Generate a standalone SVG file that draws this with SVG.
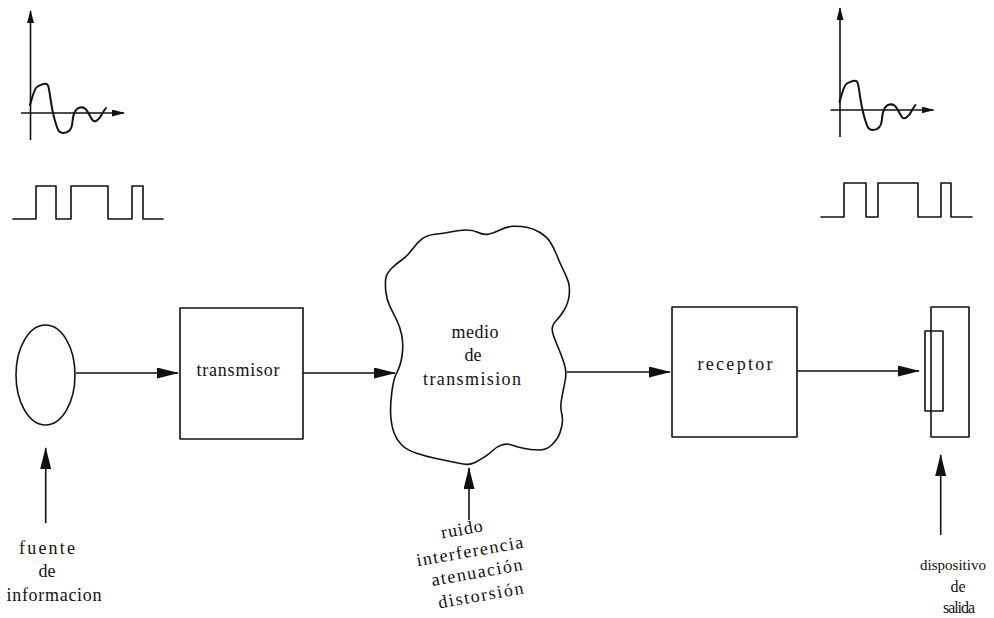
<svg xmlns="http://www.w3.org/2000/svg" xmlns:xlink="http://www.w3.org/1999/xlink" width="994" height="618" viewBox="0 0 994 618">
<style>
.ln{fill:none;stroke:#111;stroke-width:1.6;stroke-linejoin:round;stroke-linecap:round}
.wv{fill:none;stroke:#111;stroke-width:2;stroke-linejoin:round;stroke-linecap:round}
.cn{fill:none;stroke:#111;stroke-width:1.6}
.tx{font-family:'Liberation Serif','Times New Roman',serif;font-size:18px;fill:#111;text-anchor:middle}
.sm{font-size:16px}
</style>
<defs>
<marker id="ah" markerUnits="userSpaceOnUse" markerWidth="22" markerHeight="12" refX="21" refY="5.5" orient="auto"><path d="M0,0 L22,5.5 L0,11 Z" fill="#111"/></marker>
<marker id="ahs" markerUnits="userSpaceOnUse" markerWidth="13" markerHeight="8" refX="12" refY="3.5" orient="auto"><path d="M0,0 L13,3.5 L0,7 Z" fill="#111"/></marker>
<g id="osc">
<path class="cn" d="M30.5,140 V11" marker-end="url(#ahs)"/>
<path class="cn" d="M21,113 H124" marker-end="url(#ahs)"/>
<path class="wv" d="M30,105 L32.5,96.5 Q35,88 37.5,86.5 Q40,85 43.5,84 Q47,83 48,85.5 Q49,88 50.5,99 Q52,110 54.5,119 Q57,128 58.5,130.5 Q60,133 63.5,133 Q67,133 69.5,130.5 Q72,128 72.5,121.5 Q73,115 75,111.5 Q77,108 80,107.5 Q83,107 85,108.5 Q87,110 89.5,115 Q92,120 93.5,121 Q95,122 97.5,120 Q100,118 101.5,115 Q103,112 104.5,110 L106,108"/>
</g>
</defs>
<rect width="994" height="618" fill="#fff"/>

<g id="signal-in">
<use xlink:href="#osc" href="#osc"/>
<path class="ln" d="M13,219 H36 V186 H56 V219 H71 V186 H108 V219 H132 V186 H143 V219 H163"/>
</g>

<g id="signal-out">
<use xlink:href="#osc" href="#osc" transform="translate(809.5,-3)"/>
<path class="ln" d="M821,217 H844 V183 H866 V217 H878 V183 H918 V217 H941 V183 H951 V217 H972"/>
</g>

<g id="fuente">
<ellipse class="ln" cx="45.5" cy="375" rx="29.5" ry="50"/>
<text class="tx" x="47" y="554" textLength="56">fuente</text>
<text class="tx" x="47" y="577">de</text>
<text class="tx" x="54" y="601" textLength="95">informacion</text>
</g>

<g id="transmisor">
<rect class="ln" x="180" y="308" width="123" height="131"/>
<text class="tx" x="238" y="376" textLength="83">transmisor</text>
</g>

<g id="medio">
<path class="ln" d="M411.7,250 Q416.7,243.3 421.7,239.2 Q426.7,235 435,234.2 Q443.3,233.3 451.7,231.7 Q460,230 466.7,230 Q473.3,230 478.3,232.5 Q483.3,235 488.3,234.2 Q493.3,233.3 500,230 Q506.7,226.7 513.3,226.3 Q520,226 526.7,227.2 Q533.3,228.3 540,232.5 Q546.7,236.7 550,241.7 Q553.3,246.7 556.7,255 Q560,263.3 563.3,270 Q566.7,276.7 568.3,281.7 Q570,286.7 569.2,295 Q568.3,303.3 564.2,310 Q560,316.7 556.7,320 Q553.3,323.3 552.5,326.7 Q551.7,330 553.3,335 Q555,340 559.2,350 Q563.3,360 565,366.7 Q566.7,373.3 565,381.7 Q563.3,390 561.7,398.3 Q560,406.7 561.7,413.3 Q563.3,420 561.7,426.7 Q560,433.3 558.3,436.7 Q556.7,440 551.7,445 Q546.7,450 538.3,450 Q530,450 523.3,448.3 Q516.7,446.7 511.7,445 Q506.7,443.3 501.7,445 Q496.7,446.7 493.3,450 Q490,453.3 485,456.7 Q480,460 475,462.5 Q470,465 465,464.2 Q460,463.3 451.7,461.7 Q443.3,460 435,458.3 Q426.7,456.7 416.7,453.3 Q406.7,450 401.7,445 Q396.7,440 394.2,433.3 Q391.7,426.7 390.8,416.7 Q390,406.7 391.7,393.3 Q393.3,380 395.8,375 Q398.3,370 400,365 Q401.7,360 402.5,351.7 Q403.3,343.3 401.7,335 Q400,326.7 396.7,320 Q393.3,313.3 390,306.7 Q386.7,300 385.8,291.7 Q385,283.3 385.8,278.3 Q386.7,273.3 391.7,268.3 Q396.7,263.3 401.7,260 Q406.7,256.7 411.7,250 Z"/>
<text class="tx" x="475" y="338" textLength="47">medio</text>
<text class="tx" x="473" y="361">de</text>
<text class="tx" x="472" y="385" textLength="98">transmision</text>
</g>

<g id="perturbaciones">
<text class="tx" x="462" y="535" textLength="42" transform="rotate(-10 462 531)">ruido</text>
<text class="tx" x="470" y="557" textLength="108" transform="rotate(-10 470 553)">interferencia</text>
<text class="tx" x="477" y="578" textLength="92" transform="rotate(-10 477 574)">atenuación</text>
<text class="tx" x="481" y="601" textLength="86" transform="rotate(-10 481 597)">distorsión</text>
</g>

<g id="receptor">
<rect class="ln" x="672" y="307" width="125" height="130"/>
<text class="tx" x="735" y="370" textLength="75">receptor</text>
</g>

<g id="dispositivo">
<rect class="ln" x="931" y="307" width="38" height="130"/>
<rect class="ln" x="925" y="331" width="18" height="80"/>
<text class="tx" x="953" y="570" style="font-size:15px">dispositivo</text>
<text class="tx sm" x="958" y="592">de</text>
<text class="tx sm" x="959" y="613" textLength="32">salida</text>
</g>

<g id="connectors">
<path class="cn" d="M76,373 H178" marker-end="url(#ah)"/>
<path class="cn" d="M303,373 H395" marker-end="url(#ah)"/>
<path class="cn" d="M567,372 H670" marker-end="url(#ah)"/>
<path class="cn" d="M797,371 H919" marker-end="url(#ah)"/>
<path class="cn" d="M45.7,523 V448" marker-end="url(#ah)"/>
<path class="cn" d="M469,520 V468" marker-end="url(#ah)"/>
<path class="cn" d="M940.7,535 V455" marker-end="url(#ah)"/>
</g>
</svg>
